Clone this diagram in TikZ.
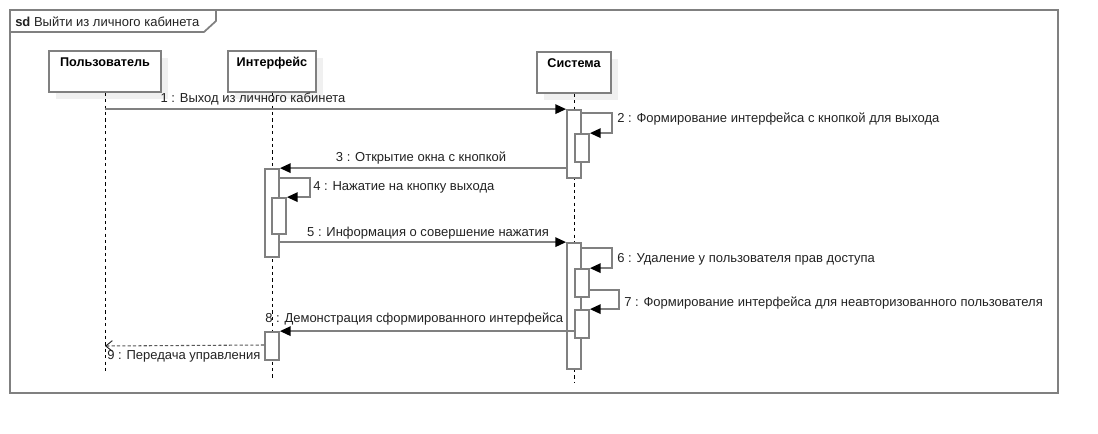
\documentclass[tikz,border=0pt]{standalone}
\usepackage{fontspec}
\setmainfont{Liberation Sans}
\usetikzlibrary{arrows.meta,shadows}

\definecolor{linegray}{RGB}{128,128,128}
\definecolor{textgray}{RGB}{34,34,34}
\definecolor{shadowgray}{RGB}{240,240,240}

\begin{document}
\begin{tikzpicture}[x=0.75pt,y=-0.75pt,font=\fontsize{9.75}{12}\selectfont,
    frame line/.style={draw=linegray,line width=1.3pt},
    head node/.style={draw=linegray,line width=1.3pt,fill=white,anchor=north,
      font=\fontsize{9.5}{12}\selectfont\bfseries,inner ysep=5pt,text height=7pt,
      text depth=13.8pt,general shadow={fill=shadowgray,shadow xshift=5.5pt,shadow yshift=-5.5pt}},
    act bar/.style={draw=linegray,line width=1.3pt,fill=white,minimum width=10.5pt,inner sep=0pt},
    life line/.style={draw=black,line width=0.7pt,dash pattern=on 2.4pt off 2.4pt},
    msg/.style={draw=linegray,line width=1.3pt,-{Triangle[length=8pt,width=7pt,color=black]}},
    reply/.style={draw=black!65,line width=0.8pt,dash pattern=on 2.4pt off 1.6pt,
      -{Straight Barb[length=5pt,width=8pt,color=textgray,line width=0.7pt]}},
    label node/.style={text=textgray,inner sep=0pt}]

  \useasboundingbox (0,0) rectangle (1098,434);

  \draw[frame line] (10,10) rectangle (1058,393);
  \draw[frame line] (10,32) -- (204,32) -- (216,21) -- (216,10);
  \node[label node,anchor=west] (title) at (15,21.5) {\textbf{sd} Выйти из личного кабинета};

  \node[head node,minimum width=84pt] (user) at (105,50) {Пользователь};
  \node[head node,minimum width=66pt] (ui) at (272,50) {Интерфейс};
  \node[head node,minimum width=55.5pt] (sys) at (574,51) {Система};

  \coordinate (userEnd) at (105,374);
  \coordinate (uiEnd) at (272,380);
  \coordinate (sysEnd) at (574,383);
  \draw[life line] (user.south) -- (userEnd);
  \draw[life line] (ui.south) -- (uiEnd);
  \draw[life line] (sys.south) -- (sysEnd);

  \node[act bar,minimum height=51pt] (sysA) at (574,144) {};
  \node[act bar,minimum height=21pt] (sysB) at (582,148) {};
  \node[act bar,minimum height=66pt] (uiA) at (272,213) {};
  \node[act bar,minimum height=27pt] (uiB) at (279,216) {};
  \node[act bar,minimum height=94.5pt] (sysC) at (574,306) {};
  \node[act bar,minimum height=21pt] (sysD) at (582,283) {};
  \node[act bar,minimum height=21pt] (sysE) at (582,324) {};
  \node[act bar,minimum height=21pt] (uiC) at (272,346) {};

  \draw[msg] (user |- sysA.north west) -- (sysA.north west);
  \draw[msg] ([yshift=-3pt]sysA.north east) -- ++(30,0) |- (sysB.north east);
  \draw[msg] (sysA.west |- uiA.north) -- (uiA.north east);
  \draw[msg] ([yshift=-7.5pt]uiA.north east) -- ++(30,0) |- (uiB.north east);
  \draw[msg] (uiA.east |- sysC.north) -- (sysC.north west);
  \draw[msg] ([yshift=-4.5pt]sysC.north east) -- ++(30,0) |- (sysD.north east);
  \draw[msg] ([yshift=6pt]sysD.south east) -- ++(29,0) |- (sysE.north east);
  \draw[msg] (sysE.west |- uiC.north) -- (uiC.north east);
  \draw[reply] ([yshift=0.75pt]uiC.west) -- (user |- uiC.west);

  \node[label node] (lab1) at (253,99) {1 : Выход из личного кабинета};
  \node[label node,anchor=west] (lab2) at (617,119) {2 : Формирование интерфейса с кнопкой для выхода};
  \node[label node] (lab3) at (421,158) {3 : Открытие окна с кнопкой};
  \node[label node,anchor=west] (lab4) at (313,187) {4 : Нажатие на кнопку выхода};
  \node[label node] (lab5) at (428,233) {5 : Информация о совершение нажатия};
  \node[label node,anchor=west] (lab6) at (617,259) {6 : Удаление у пользователя прав доступа};
  \node[label node,anchor=west] (lab7) at (624,303) {7 : Формирование интерфейса для неавторизованного пользователя};
  \node[label node,anchor=west] (lab8) at (265,319) {8 : Демонстрация сформированного интерфейса};
  \node[label node,anchor=west] (lab9) at (107,356) {9 : Передача управления};
\end{tikzpicture}
\end{document}
